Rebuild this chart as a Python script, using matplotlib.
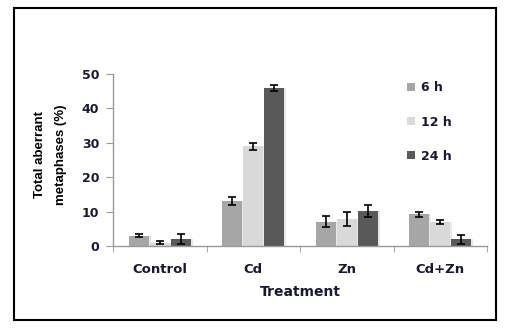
import numpy as np
import matplotlib.pyplot as plt
from matplotlib.patches import Rectangle, Patch

plt.rcParams.update({'font.family': ['DejaVu Sans'], 'font.weight': 'bold'})

# data
treatments = ["Control", "Cd", "Zn", "Cd+Zn"]
series = ["6 h", "12 h", "24 h"]
vals_6h = [3.0, 13.0, 7.0, 9.2]
vals_12h = [1.0, 29.0, 7.9, 6.9]
vals_24h = [2.1, 46.0, 10.1, 2.0]
err_6h = [0.4, 1.1, 1.6, 0.8]
err_12h = [0.5, 1.0, 2.1, 0.6]
err_24h = [1.5, 0.9, 1.8, 1.3]

colors = ["#a6a6a6", "#d9d9d9", "#595959"]
txt = "#1a1a2e"

fig = plt.figure(figsize=(5.07, 3.30), dpi=100)
ax = fig.add_axes([113/507, 1-246/330, 374/507, 172/330])

x = np.arange(len(treatments))
offs = [-0.225, 0, 0.225]
w = 0.21
allv = [vals_6h, vals_12h, vals_24h]
alle = [err_6h, err_12h, err_24h]
for k in range(3):
    # soft shadow behind bars
    ax.bar(x + offs[k] + 0.025, allv[k], w, color="#e9e9e9", zorder=1)
    ax.bar(x + offs[k], allv[k], w, color=colors[k], label=series[k], zorder=2)
    ax.errorbar(x + offs[k], allv[k], yerr=alle[k], fmt='none', ecolor='black',
                elinewidth=1.2, capsize=3, capthick=1.2, zorder=3)

ax.set_xlim(-0.5, 3.5)
ax.set_ylim(0, 50)
ax.set_yticks([0, 10, 20, 30, 40, 50])
ax.set_xticks(x)
ax.set_xticklabels(treatments, fontsize=9.5, color=txt, fontweight='bold')
ax.set_xticks(np.arange(-0.5, 4, 1), minor=True)
ax.tick_params(axis='x', which='major', length=0, pad=12)
ax.tick_params(axis='x', which='minor', length=4, color='#999999', direction='out')
ax.tick_params(axis='y', length=5, color='#999999', labelsize=9, labelcolor=txt, pad=5)
for t in ax.get_yticklabels():
    t.set_fontweight('bold')
for s in ['top', 'right']:
    ax.spines[s].set_visible(False)
for s in ['left', 'bottom']:
    ax.spines[s].set_color('#999999')
    ax.spines[s].set_linewidth(1)

ax.set_xlabel("Treatment", fontsize=10, color=txt, fontweight='bold', labelpad=7)
fig.text(40/507, 1-155/330, "Total aberrant", rotation=90, ha='center', va='center',
         fontsize=9.5, fontweight='bold', family=['Liberation Sans'])
fig.text(61/507, 1-155/330, "metaphases (%)", rotation=90, ha='center', va='center',
         fontsize=9.5, fontweight='bold', family=['Liberation Sans'])

handles = [Patch(facecolor=c, edgecolor='none') for c in colors]
leg = fig.legend(handles, series, loc='upper left', bbox_to_anchor=(396/507, 1-70/330),
                 frameon=False, handlelength=0.6, handleheight=0.6, handletextpad=0.5,
                 labelspacing=1.7, prop={'size': 9, 'weight': 'bold'})
for t in leg.get_texts():
    t.set_color(txt)

fig.patches.append(Rectangle((14/507, 1-320/330), 482/507, 312/330, transform=fig.transFigure,
                             fill=False, edgecolor='black', linewidth=1.5))

fig.savefig("out.png", dpi=100)
